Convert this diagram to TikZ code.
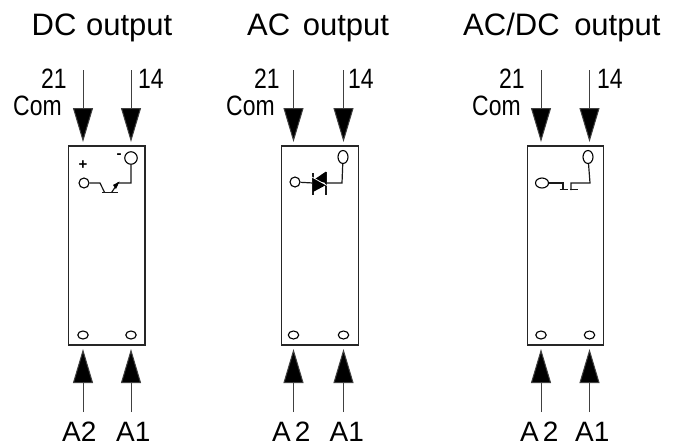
\documentclass[tikz,border=0pt]{standalone}
\usepackage{fontspec}
\setmainfont{Liberation Sans}
\usetikzlibrary{arrows.meta,shapes.geometric}
\tikzset{
  x=1pt,y=-1pt,
  wire/.style={line width=1.2pt,draw=black!90},
  box/.style={line width=1.2pt,draw=black!85},
  feed/.style={line width=1pt,draw=black!75,-{Triangle[length=34pt,width=20pt,fill=black]}},
  term/.style={ellipse,draw=black,line width=1.1pt,fill=white,inner sep=0pt,minimum width=#1},
  title/.style={anchor=base west,font=\fontsize{31}{32}\selectfont,inner sep=0pt},
  pin/.style={anchor=base west,font=\fontsize{28}{30}\selectfont,inner sep=0pt},
  cond/.style={anchor=base west,font=\fontsize{28}{30}\selectfont,inner sep=0pt},
  sign/.style={anchor=center,font=\bfseries\fontsize{15}{15}\selectfont,inner sep=0pt},
}
\newcommand{\cnd}[1]{\scalebox{0.82}[1]{#1}}
\newcommand{\feeds}[3]{%
  \coordinate (#1ta) at (#2,70); \coordinate (#1tae) at (#2,142);
  \coordinate (#1tb) at (#3,70); \coordinate (#1tbe) at (#3,142);
  \coordinate (#1ba) at (#2,412); \coordinate (#1bae) at (#2,349);
  \coordinate (#1bb) at (#3,412); \coordinate (#1bbe) at (#3,349);
  \draw[feed] (#1ta) -- (#1tae);
  \draw[feed] (#1tb) -- (#1tbe);
  \draw[feed] (#1ba) -- (#1bae);
  \draw[feed] (#1bb) -- (#1bbe);
  \node[term=10.5pt,minimum height=8pt] (#1pa) at (#2,335) {};
  \node[term=10.5pt,minimum height=8pt] (#1pb) at (#3,335) {};
}
\begin{document}
\begin{tikzpicture}
\useasboundingbox (0,0) rectangle (687,445);
% boxes
\node[box,draw,minimum width=76.5pt,minimum height=199pt,inner sep=0pt] (b1) at (106.75,245.5) {};
\node[box,draw,minimum width=76.5pt,minimum height=199pt,inner sep=0pt] (b2) at (320,245.5) {};
\node[box,draw,minimum width=76.5pt,minimum height=199pt,inner sep=0pt] (b3) at (565.5,245.5) {};
\feeds{a}{83}{131}
\feeds{b}{293.5}{343.5}
\feeds{c}{541}{589.5}
% titles
\node[title] (t1) at (31.5,35) {DC\hspace{1pt} output};
\node[title] (t2) at (247,35) {AC\hspace{4pt} output};
\node[title] (t3) at (463,35) {AC/DC\hspace{6pt} output};
% bottom labels
\node[pin] (l1a) at (62,441.5) {A2};
\node[pin] (l1b) at (116,441.5) {A1};
\node[pin] (l2a) at (272,441.5) {A\hspace{4pt}2};
\node[pin] (l2b) at (329.5,441.5) {A1};
\node[pin] (l3a) at (520,441.5) {A\hspace{4pt}2};
\node[pin] (l3b) at (575,441.5) {A1};
% condensed labels
\node[cond] (n1a) at (41,88) {\cnd{21}};
\node[cond] (n1b) at (138,88) {\cnd{14}};
\node[cond] (n1c) at (13,115) {\cnd{Com}};
\node[cond] (n2a) at (254,88) {\cnd{21}};
\node[cond] (n2b) at (348,88) {\cnd{14}};
\node[cond] (n2c) at (226,115) {\cnd{Com}};
\node[cond] (n3a) at (499,88) {\cnd{21}};
\node[cond] (n3b) at (597,88) {\cnd{14}};
\node[cond] (n3c) at (472,115) {\cnd{Com}};
% DC output circuit
\node[term=12.5pt,minimum height=12.5pt] (a1) at (131,158) {};
\node[term=10pt,minimum height=10pt] (a2) at (84,183) {};
\node[sign] (ap) at (83,165.5) {+};
\node[sign] (am) at (119,156) {-};
\coordinate (aj) at (131,183); \coordinate (ac1) at (100,183); \coordinate (ac2) at (104.5,192.3);
\coordinate (ac3) at (111.7,192.3); \coordinate (ac4) at (118,183);
\coordinate (as) at (102,192.5); \coordinate (ae) at (118,192.5);
\draw[wire] (a1) -- (aj) -- (ac4) -- (ac3);
\draw[wire] (a2) -- (ac1) -- (ac2);
\draw[wire] (as) -- (ae);
\fill (119.5,181.5) -- (113,185) -- (116,189) -- cycle;
% AC output circuit
\node[term=10pt,minimum height=13pt] (b1t) at (343,157) {};
\node[term=10pt,minimum height=10pt] (b2t) at (295,182) {};
\coordinate (bj) at (342,183); \coordinate (bl) at (313,183); \coordinate (br) at (326,183);
\draw[wire] (b1t) -- (bj) -- (br);
\draw[wire] (b2t) -- (bl);
\draw[wire] (313,173) -- (313,195);
\draw[wire] (326,172) -- (326,195);
\fill (313.5,180) -- (326,171.5) -- (326,183) -- cycle;
\fill (313,178.5) -- (313,192) -- (326,185) -- cycle;
\draw[white,line width=0.7pt] (311,176.5) -- (328,186);
% AC/DC circuit
\node[term=10pt,minimum height=13pt] (c1t) at (588,157) {};
\node[term=13pt,minimum height=10pt] (c2t) at (542,183) {};
\coordinate (cj) at (590,183); \coordinate (cl) at (563,183); \coordinate (cr) at (571,183);
\coordinate (cld) at (563,190); \coordinate (crd) at (571,190);
\draw[wire] (c1t) -- (cj) -- (cr) -- (crd);
\draw[wire] (c2t) -- (cl) -- (cld);
\draw[wire] (559.5,189.5) -- (568,189.5);
\draw[wire] (570,189.5) -- (577.5,189.5);
\end{tikzpicture}
\end{document}
